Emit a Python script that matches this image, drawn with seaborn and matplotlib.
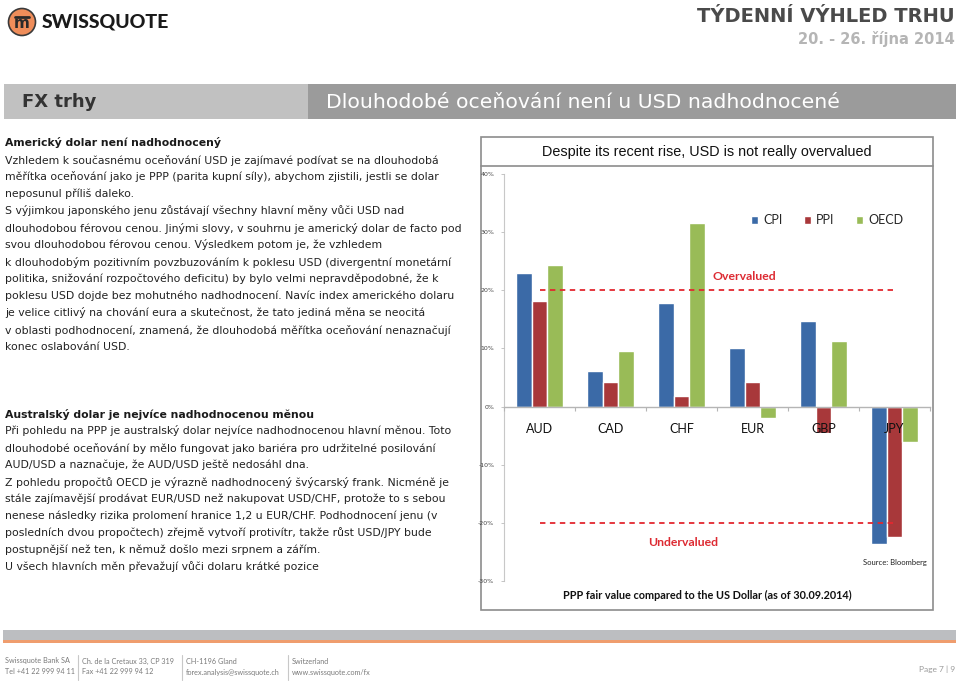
import numpy as np
import pandas as pd
import matplotlib
matplotlib.use("Agg")
import matplotlib.pyplot as plt
from matplotlib.patches import Rectangle, Circle
import seaborn as sns

# chart data (PPP fair value vs USD, %)
currencies = ["AUD", "CAD", "CHF", "EUR", "GBP", "JPY"]
measures = ["CPI", "PPI", "OECD"]
cpi = [22.9, 6.1, 17.8, 10.0, 14.7, -23.7]
ppi = [18.2, 4.2, 1.9, 4.2, -4.6, -22.5]
oecd = [24.4, 9.5, 31.5, -2.0, 11.3, -6.1]
y_ticks = [-30, -20, -10, 0, 10, 20, 30, 40]
over_level = 20
under_level = -20

palette = {"CPI": "#3b6aa7", "PPI": "#a8383a", "OECD": "#99bb57"}

# page text
sec1_head = "Americký dolar není nadhodnocený"
sec1_lines = [
    "Vzhledem k současnému oceňování USD je zajímavé podívat se na dlouhodobá",
    "měřítka oceňování jako je PPP (parita kupní síly), abychom zjistili, jestli se dolar",
    "neposunul příliš daleko.",
    "S výjimkou japonského jenu zůstávají všechny hlavní měny vůči USD nad",
    "dlouhodobou férovou cenou. Jinými slovy, v souhrnu je americký dolar de facto pod",
    "svou dlouhodobou férovou cenou. Výsledkem potom je, že vzhledem",
    "k dlouhodobým pozitivním povzbuzováním k poklesu USD (divergentní monetární",
    "politika, snižování rozpočtového deficitu) by bylo velmi nepravděpodobné, že k",
    "poklesu USD dojde bez mohutného nadhodnocení. Navíc index amerického dolaru",
    "je velice citlivý na chování eura a skutečnost, že tato jediná měna se neocitá",
    "v oblasti podhodnocení, znamená, že dlouhodobá měřítka oceňování nenaznačují",
    "konec oslabování USD.",
]
sec2_head = "Australský dolar je nejvíce nadhodnocenou měnou"
sec2_lines = [
    "Při pohledu na PPP je australský dolar nejvíce nadhodnocenou hlavní měnou. Toto",
    "dlouhodobé oceňování by mělo fungovat jako bariéra pro udržitelné posilování",
    "AUD/USD a naznačuje, že AUD/USD ještě nedosáhl dna.",
    "Z pohledu propočtů OECD je výrazně nadhodnocený švýcarský frank. Nicméně je",
    "stále zajímavější prodávat EUR/USD než nakupovat USD/CHF, protože to s sebou",
    "nenese následky rizika prolomení hranice 1,2 u EUR/CHF. Podhodnocení jenu (v",
    "posledních dvou propočtech) zřejmě vytvoří protivítr, takže růst USD/JPY bude",
    "postupnější než ten, k němuž došlo mezi srpnem a zářím.",
    "U všech hlavních měn převažují vůči dolaru krátké pozice",
]
footer_cols = [
    ("Swissquote Bank SA", "Tel +41 22 999 94 11"),
    ("Ch. de la Cretaux 33, CP 319", "Fax +41 22 999 94 12"),
    ("CH-1196 Gland", "forex.analysis@swissquote.ch"),
    ("Switzerland", "www.swissquote.com/fx"),
]

NARROW = ["Lato", "DejaVu Sans"]
BODY = ["DejaVu Sans"]

df = pd.DataFrame({
    "currency": currencies * 3,
    "measure": [m for m in measures for _ in currencies],
    "value": cpi + ppi + oecd,
})

sns.set_theme(style="white")
plt.rcParams["font.family"] = ["DejaVu Sans"]

fig = plt.figure(figsize=(9.6, 6.81), dpi=100)
fig.patch.set_facecolor("white")

# page background layer in pixel coordinates
bg = fig.add_axes([0, 0, 1, 1])
bg.set_xlim(0, 960)
bg.set_ylim(681, 0)
bg.axis("off")

# logo
bg.add_patch(Circle((22, 22), 13.5, fc="#ef8d5a", ec="#3a3a3a", lw=1.2))
bg.plot([15, 29], [16.5, 16.5], color="#2a2a2a", lw=2)
bg.text(22, 24, "m", ha="center", va="center", fontsize=11, fontweight="bold", color="#2a2a2a")
bg.text(42, 22, "SWISSQUOTE", ha="left", va="center", fontsize=14, fontweight="black",
        color="#1a1a1a", family=NARROW)

bg.text(955, 16, "TÝDENNÍ VÝHLED TRHU", ha="right", va="center", fontsize=14,
        fontweight="bold", color="#4a4a4a")
bg.text(955, 39, "20. - 26. října 2014", ha="right", va="center", fontsize=10.5,
        fontweight="bold", color="#b5b5b5")

# header bar
bg.add_patch(Rectangle((4, 84), 304, 35, fc="#c1c1c1", ec="none"))
bg.add_patch(Rectangle((308, 84), 648, 35, fc="#9b9b9b", ec="none"))
bg.text(22, 102, "FX trhy", ha="left", va="center", fontsize=13, fontweight="bold", color="#333333")
bg.text(326, 102, "Dlouhodobé oceňování není u USD nadhodnocené", ha="left", va="center",
        fontsize=14.7, color="white")

# body text
def write_block(head, lines, y0):
    bg.text(5, y0, head, ha="left", va="center", fontsize=7.85, fontweight="bold",
            color="#1a1a1a", family=BODY)
    for i, line in enumerate(lines):
        bg.text(5, y0 + 17 * (i + 1), line, ha="left", va="center", fontsize=7.85,
                color="#222222", family=BODY)

write_block(sec1_head, sec1_lines, 143)
write_block(sec2_head, sec2_lines, 414)

# chart frame
bg.add_patch(Rectangle((481, 137), 452, 473, fill=False, ec="#8c8c8c", lw=1.2))
bg.plot([481, 933], [166, 166], color="#8c8c8c", lw=1.2)
bg.text(707, 152, "Despite its recent rise, USD is not really overvalued", ha="center",
        va="center", fontsize=10.4, color="#111111", family=["Liberation Sans", "DejaVu Sans"])
bg.text(707, 595, "PPP fair value compared to the US Dollar (as of 30.09.2014)", ha="center",
        va="center", fontsize=7.8, fontweight="bold", color="#111111", family=NARROW)
bg.text(895, 562, "Source: Bloomberg", ha="center", va="center", fontsize=5.5,
        color="#222222", family=NARROW)

# footer
bg.add_patch(Rectangle((3, 630), 953, 10, fc="#bcbec1", ec="none"))
bg.add_patch(Rectangle((3, 640), 953, 3, fc="#ef9d6e", ec="none"))
col_x = [5, 82, 186, 292]
for i, (a, b) in enumerate(footer_cols):
    bg.text(col_x[i], 661, a, ha="left", va="center", fontsize=5.2, color="#7a7a7a", family=NARROW)
    bg.text(col_x[i], 672, b, ha="left", va="center", fontsize=5.2, color="#7a7a7a", family=NARROW)
    if i > 0:
        bg.plot([col_x[i] - 4, col_x[i] - 4], [655, 680], color="#c8c8c8", lw=0.8)
bg.text(955, 669, "Page 7 | 9", ha="right", va="center", fontsize=6, color="#9a9a9a", family=NARROW)

# the chart itself
ax = fig.add_axes([504 / 960, 1 - 581 / 681, 426 / 960, 407 / 681])
ax.patch.set_alpha(0)
sns.barplot(data=df, x="currency", y="value", hue="measure", hue_order=measures,
            palette=palette, width=0.66, saturation=1, ax=ax)
ax.set_axisbelow(False)
ax.set_xlim(-0.5, len(currencies) - 0.5)
ax.set_ylim(y_ticks[0], y_ticks[-1])
ax.set_yticks(y_ticks)
ax.set_yticklabels([f"{t}%" for t in y_ticks])
ax.set_xlabel("")
ax.set_ylabel("")

for s in ["top", "right"]:
    ax.spines[s].set_visible(False)
ax.spines["left"].set_color("#c8c8c8")
ax.spines["left"].set_linewidth(0.8)
ax.spines["bottom"].set_position(("data", 0))
ax.spines["bottom"].set_color("#b5b5b5")
ax.spines["bottom"].set_linewidth(1)

ax.tick_params(axis="y", left=True, length=2, width=0.6, color="#bbbbbb",
               labelsize=4.5, labelcolor="#444444", pad=5)
ax.set_xticks(np.arange(-0.5, len(currencies), 1), minor=True)
ax.tick_params(axis="x", which="major", length=0, pad=12, labelsize=9, labelcolor="#111111")
ax.tick_params(axis="x", which="minor", bottom=True, length=3, width=0.8, color="#b5b5b5",
               direction="out")
for lab in ax.get_xticklabels():
    lab.set_family(NARROW)
    lab.set_zorder(5)

ax.hlines([over_level, under_level], 0, len(currencies) - 1, colors="#e3282f",
          linestyles=(0, (3, 2.5)), lw=1.3, zorder=3)
ax.text(2.88, 22.4, "Overvalued", ha="center", va="center", fontsize=8.8, fontweight="bold",
        color="#dd2a32", family=NARROW)
ax.text(2.02, -23.4, "Undervalued", ha="center", va="center", fontsize=8.8, fontweight="bold",
        color="#dd2a32", family=NARROW)

handles, labels = ax.get_legend_handles_labels()
ax.legend(handles, labels, loc="center", bbox_to_anchor=(0.758, 0.887), ncol=3,
          frameon=False, handlelength=0.6, handleheight=0.6, handletextpad=0.4,
          columnspacing=1.7, prop={"family": NARROW, "size": 9})

fig.savefig("out.png", dpi=100, facecolor="white")
